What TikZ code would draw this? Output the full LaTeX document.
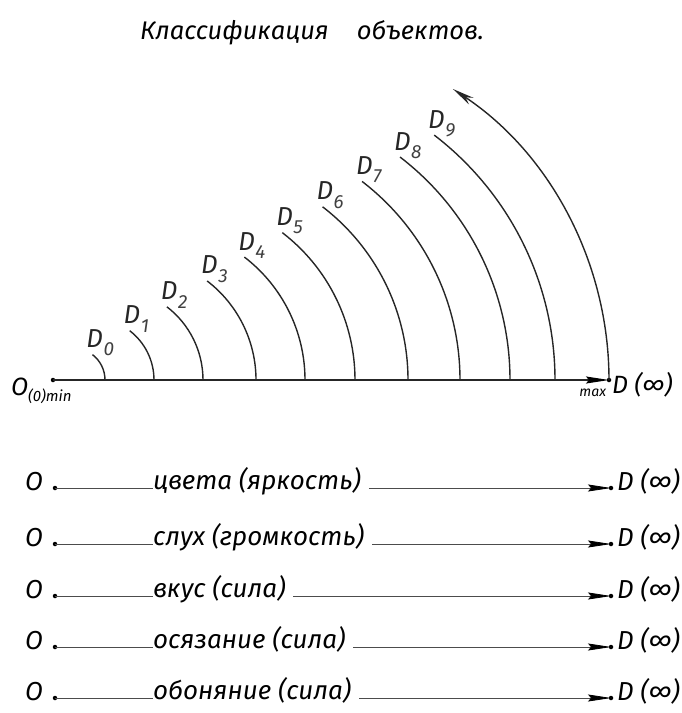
\documentclass[tikz,border=0pt]{standalone}
\usepackage{fontspec}
\setmainfont{Fira Sans}
\usetikzlibrary{arrows.meta}
\newcommand{\Dlab}[1]{D\kern0.02em\raisebox{-0.32em}{\color{black!75}\fontsize{19}{19}\selectfont #1}}
\tikzset{
  every node/.style={inner sep=0pt, outer sep=0pt},
  titletxt/.style={font=\itshape\fontsize{25.5}{25.5}\selectfont},
  biglbl/.style={font=\itshape\fontsize{25}{25}\selectfont},
  dlbl/.style={font=\itshape\fontsize{26}{26}\selectfont, anchor=base west},
  rowtxt/.style={font=\itshape\fontsize{26}{26}\selectfont, anchor=base west},
  smalltxt/.style={font=\itshape\fontsize{14}{14}\selectfont},
  axisline/.style={line width=1.3pt, black!85},
  arcline/.style={line width=1.4pt, black!85},
  rowline/.style={line width=0.8pt, black!70},
  dotpt/.style={circle, fill=black, minimum size=4.5pt, inner sep=0pt},
  longtip/.style={-{Stealth[length=23pt, width=7pt, inset=3pt, black]}}
}
\begin{document}
\begin{tikzpicture}[x=1pt, y=-1pt]
\useasboundingbox (0,0) rectangle (682,713);
% title
\node[titletxt] (title) at (312,33) {Классификация\hspace{1.1em}объектов.};
% main axis
\node[dotpt] (O) at (53,380) {};
\node[dotpt] (Dmax) at (609,380) {};
\draw[axisline, longtip] (O.center) -- (Dmax.center);
\node[biglbl, anchor=base west] (Olbl) at (11,395) {O\raisebox{-0.25em}{\fontsize{15}{15}\selectfont(0)min}};
\node[smalltxt, anchor=base east] (maxlbl) at (606,396) {max};
\node[biglbl, anchor=base west] (Dinf) at (612,393) {D (∞)};
% arcs D0..D9
\foreach \d/\i in {52/0,101/1,150/2,203/3,252/4,302/5,355/6,407/7,457/8,502/9}{
  \coordinate (B\i) at ({53+\d},380);
  \draw[arcline] (B\i) arc[start angle=0, end angle=-52.5, radius={0.615*\d}]
    node[dlbl, xshift=-6pt, yshift=7pt] (D\i) {\Dlab{\i}};
}
\coordinate (Barrow) at (609,380);
\draw[arcline, -{Stealth[length=22pt, width=8pt]}] (Barrow) arc[start angle=0, end angle=-56.4, radius=349.4];
% rows
\foreach \y/\txt/\n in {488/цвета (яркость)/1, 544/слух (громкость)/2, 596/вкус (сила)/3, 647/осязание (сила)/4, 698/обоняние (сила)/5}{
  \node[dotpt] (L\n) at (55,\y) {};
  \node[rowtxt] (O\n) at (25,{\y+2}) {O};
  \node[rowtxt] (T\n) at (153,{\y+1}) {\txt};
  \node[dotpt] (R\n) at (611,\y) {};
  \node[rowtxt] (E\n) at (617,{\y+2}) {D (∞)};
  \draw[rowline] (L\n.center) -- (L\n.center -| T\n.west);
  \draw[rowline, longtip, shorten <=8pt] (R\n.center -| T\n.east) -- (R\n.center);
}
\end{tikzpicture}
\end{document}
